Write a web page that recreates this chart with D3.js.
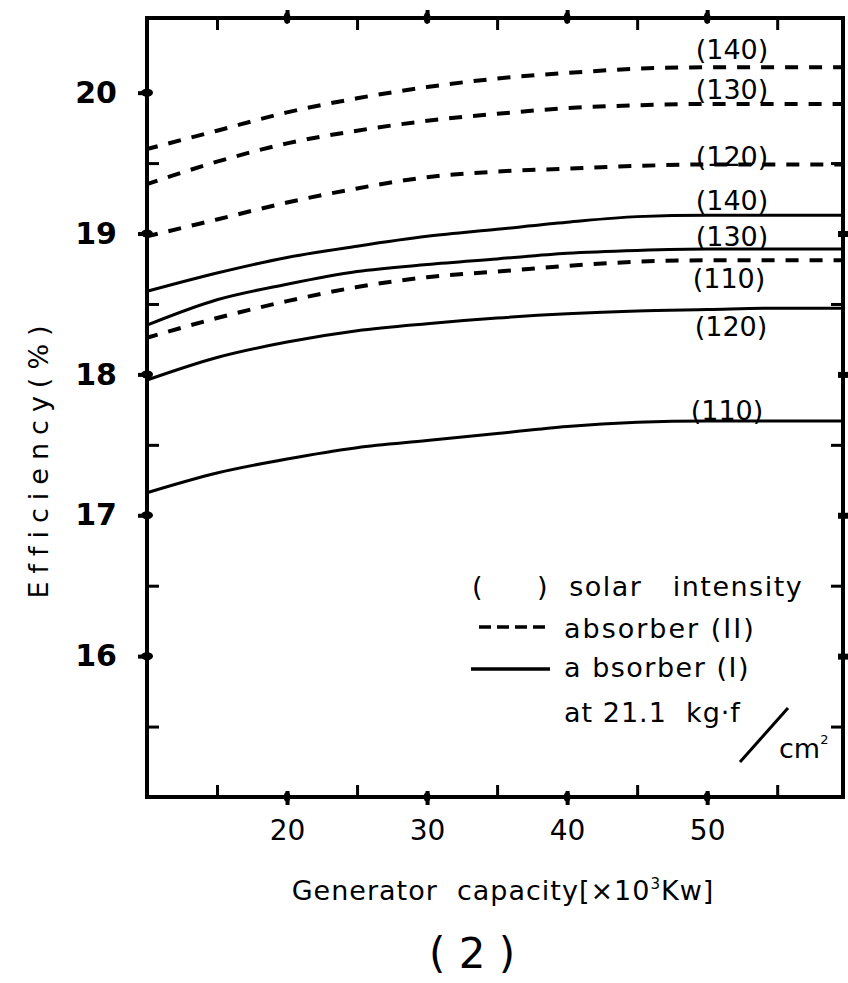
<!DOCTYPE html>
<html>
<head>
<meta charset="utf-8">
<script src="https://cdn.jsdelivr.net/npm/d3@7"></script>
<style>
  html, body { margin: 0; padding: 0; background: #fff; }
  svg { display: block; }
  .txt { font-family: "DejaVu Sans", "Noto Sans", sans-serif; }
  .num { font-family: "DejaVu Sans", "Noto Sans", sans-serif; font-weight: bold; }
</style>
</head>
<body>
<svg id="chart" width="848" height="983"></svg>
<script>
// Generator capacity (x10^3 kW) at which each efficiency curve is sampled
const capacity = [10, 15, 20, 25, 30, 35, 40, 45, 50, 55, 59.7];

// Absorber (II), dashed curves, efficiency (%)
const absII_140 = [19.60, 19.73, 19.86, 19.96, 20.04, 20.10, 20.14, 20.17, 20.18, 20.18, 20.18];
const absII_130 = [19.35, 19.51, 19.64, 19.73, 19.80, 19.85, 19.89, 19.91, 19.92, 19.92, 19.92];
const absII_120 = [18.98, 19.10, 19.22, 19.32, 19.40, 19.44, 19.46, 19.48, 19.49, 19.49, 19.49];
const absII_110 = [18.26, 18.40, 18.52, 18.62, 18.69, 18.73, 18.77, 18.80, 18.81, 18.81, 18.81];

// Absorber (I), solid curves, efficiency (%)
const absI_140 = [18.59, 18.72, 18.83, 18.91, 18.98, 19.03, 19.08, 19.12, 19.13, 19.13, 19.13];
const absI_130 = [18.35, 18.53, 18.64, 18.73, 18.78, 18.82, 18.86, 18.88, 18.89, 18.89, 18.89];
const absI_120 = [17.96, 18.12, 18.23, 18.31, 18.36, 18.40, 18.43, 18.45, 18.46, 18.47, 18.47];
const absI_110 = [17.16, 17.30, 17.40, 17.48, 17.53, 17.58, 17.63, 17.66, 17.67, 17.67, 17.67];

// Axis ticks
const xTicks = [20, 30, 40, 50];
const xMinor = [15, 25, 35, 45, 55];
const yTicks = [16, 17, 18, 19, 20];
const yMinor = [15.5, 16.5, 17.5, 18.5, 19.5];

// Series with their solar-intensity tags
const series = [
  { tag: "(140)", values: absII_140, dashed: true },
  { tag: "(130)", values: absII_130, dashed: true },
  { tag: "(120)", values: absII_120, dashed: true },
  { tag: "(110)", values: absII_110, dashed: true },
  { tag: "(140)", values: absI_140, dashed: false },
  { tag: "(130)", values: absI_130, dashed: false },
  { tag: "(120)", values: absI_120, dashed: false },
  { tag: "(110)", values: absI_110, dashed: false }
];
// Tag placement: centre x and offset from the curve's right end (pixels)
const tagOffsets = [
  { cx: 732, dy: -8 },
  { cx: 732, dy: -5 },
  { cx: 732, dy: 1 },
  { cx: 729, dy: 28 },
  { cx: 732, dy: -5 },
  { cx: 732, dy: -3 },
  { cx: 731, dy: 28 },
  { cx: 727, dy: -1 }
];

const svg = d3.select("#chart");
const pLeft = 147, pRight = 843, pTop = 18, pBottom = 797;

const x = d3.scaleLinear().domain([10, 59.7]).range([pLeft, pRight]);
const y = d3.scaleLinear().domain([15, 20.53]).range([pBottom, pTop]);

// Curves
const line = d3.line()
  .x((d, i) => x(capacity[i]))
  .y(d => y(d))
  .curve(d3.curveMonotoneX);

svg.append("g").selectAll("path")
  .data(series)
  .join("path")
  .attr("d", d => line(d.values))
  .attr("fill", "none")
  .attr("stroke", "#000")
  .attr("stroke-width", d => d.dashed ? 4 : 3)
  .attr("stroke-dasharray", d => d.dashed ? "13,11" : null)
  .attr("stroke-dashoffset", d => d.dashed ? -22 : 0);

// Solar intensity tags at the right end of each curve
svg.append("g").attr("class", "txt")
  .selectAll("text")
  .data(series)
  .join("text")
  .attr("x", (d, i) => tagOffsets[i].cx)
  .attr("y", (d, i) => y(d.values[d.values.length - 1]) + tagOffsets[i].dy)
  .attr("text-anchor", "middle")
  .attr("font-size", 27)
  .attr("fill", "#000")
  .text(d => d.tag);

// Inner minor ticks on all four sides
const axB = d3.axisBottom(x).tickValues(xMinor).tickSize(-12).tickFormat("");
const axT = d3.axisTop(x).tickValues(xMinor).tickSize(-12).tickFormat("");
const axL = d3.axisLeft(y).tickValues(yMinor).tickSize(-12).tickFormat("");
const axR = d3.axisRight(y).tickValues(yMinor).tickSize(-12).tickFormat("");
[[axB, `translate(0,${pBottom})`], [axT, `translate(0,${pTop})`],
 [axL, `translate(${pLeft},0)`], [axR, `translate(${pRight},0)`]].forEach(([ax, tr]) => {
  const g = svg.append("g").attr("transform", tr).call(ax);
  g.select(".domain").remove();
  g.selectAll("line").attr("stroke", "#000").attr("stroke-width", 3);
});

// Major ticks: short crossing marks with a dot on the frame
const majB = d3.axisBottom(x).tickValues(xTicks).tickSize(8).tickPadding(10).tickFormat(d3.format("d"));
const gB = svg.append("g").attr("transform", `translate(0,${pBottom})`).call(majB);
gB.select(".domain").remove();
gB.selectAll("line").attr("stroke", "#000").attr("stroke-width", 4).attr("y1", -6);
gB.selectAll("text").attr("class", "txt").attr("font-size", 28).attr("fill", "#000").attr("dy", "0.9em");

const majL = d3.axisLeft(y).tickValues(yTicks).tickSize(9).tickPadding(21).tickFormat(d3.format("d"));
const gL = svg.append("g").attr("transform", `translate(${pLeft},0)`).call(majL);
gL.select(".domain").remove();
gL.selectAll("line").attr("stroke", "#000").attr("stroke-width", 4).attr("x2", -9).attr("x1", 4);
gL.selectAll("text").attr("class", "num").attr("font-size", 30).attr("fill", "#000");

const majT = d3.axisTop(x).tickValues(xTicks).tickSize(8).tickFormat("");
const gT = svg.append("g").attr("transform", `translate(0,${pTop})`).call(majT);
gT.select(".domain").remove();
gT.selectAll("line").attr("stroke", "#000").attr("stroke-width", 4).attr("y1", 5);

const majR = d3.axisRight(y).tickValues(yTicks.filter(v => v < 20)).tickSize(5).tickFormat("");
const gR = svg.append("g").attr("transform", `translate(${pRight},0)`).call(majR);
gR.select(".domain").remove();
gR.selectAll("line").attr("stroke", "#000").attr("stroke-width", 6).attr("x1", -5);

// Dots on the frame at the major ticks
const dots = svg.append("g").attr("fill", "#000");
xTicks.forEach(v => {
  dots.append("ellipse").attr("cx", x(v)).attr("cy", pBottom).attr("rx", 3.5).attr("ry", 5);
  dots.append("ellipse").attr("cx", x(v)).attr("cy", pTop).attr("rx", 3.5).attr("ry", 6);
});
yTicks.forEach(v => {
  dots.append("ellipse").attr("cx", pLeft).attr("cy", y(v)).attr("rx", 6).attr("ry", 4);
});

// Frame
svg.append("rect")
  .attr("x", pLeft).attr("y", pTop)
  .attr("width", pRight - pLeft).attr("height", pBottom - pTop)
  .attr("fill", "none").attr("stroke", "#000").attr("stroke-width", 4);

// Axis titles
svg.append("text")
  .attr("class", "txt")
  .attr("transform", "translate(48,458) rotate(-90)")
  .attr("text-anchor", "middle")
  .attr("font-size", 27)
  .attr("letter-spacing", 8)
  .text("Efficiency(%)");

const xt = svg.append("text")
  .attr("class", "txt")
  .attr("x", 503).attr("y", 900)
  .attr("text-anchor", "middle")
  .attr("font-size", 27)
  .attr("letter-spacing", 1)
  .attr("xml:space", "preserve");
xt.append("tspan").text("Generator  capacity[×10");
xt.append("tspan").attr("font-size", 15).attr("dy", -11).text("3");
xt.append("tspan").attr("dy", 11).text("Kw]");

svg.append("text")
  .attr("class", "txt")
  .attr("x", 472).attr("y", 968)
  .attr("text-anchor", "middle")
  .attr("font-size", 42)
  .attr("xml:space", "preserve")
  .text("( 2 )");

// Legend
const lg = svg.append("g").attr("class", "txt").attr("font-size", 27).attr("fill", "#000");
lg.append("text").attr("x", 472).attr("y", 596).text("(");
lg.append("text").attr("x", 537).attr("y", 596).attr("xml:space", "preserve").attr("letter-spacing", 1.5).text(")  solar   intensity");
lg.append("line").attr("x1", 479).attr("x2", 545).attr("y1", 627).attr("y2", 627)
  .attr("stroke", "#000").attr("stroke-width", 3.5).attr("stroke-dasharray", "12,6");
lg.append("text").attr("x", 564).attr("y", 638).attr("letter-spacing", 2).text("absorber (II)");
lg.append("line").attr("x1", 471).attr("x2", 550).attr("y1", 669).attr("y2", 669)
  .attr("stroke", "#000").attr("stroke-width", 3.5);
lg.append("text").attr("x", 564).attr("y", 677).attr("xml:space", "preserve").attr("letter-spacing", 1.5).text("a bsorber (I)");
lg.append("text").attr("x", 564).attr("y", 722).attr("xml:space", "preserve").attr("letter-spacing", 1).text("at 21.1  kg·f");
lg.append("line").attr("x1", 740).attr("y1", 762).attr("x2", 788).attr("y2", 708)
  .attr("stroke", "#000").attr("stroke-width", 3);
const cm = lg.append("text").attr("x", 779).attr("y", 758);
cm.append("tspan").text("cm");
cm.append("tspan").attr("font-size", 13).attr("dy", -14).text("2");
</script>
</body>
</html>
